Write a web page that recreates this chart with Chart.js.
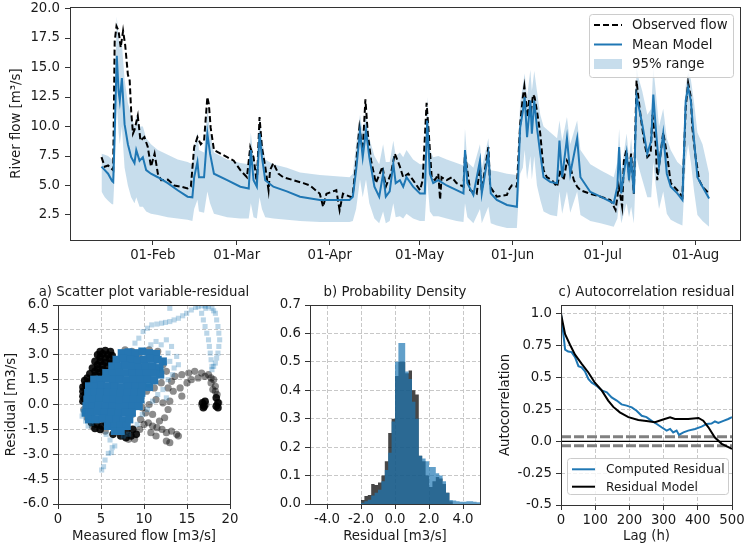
<!DOCTYPE html>
<html>
<head>
<meta charset="utf-8">
<title>River flow model and residual analysis</title>
<script src="https://cdn.jsdelivr.net/npm/chart.js@4.4.1/dist/chart.umd.min.js"></script>
<style>
  body { margin: 0; background: #fff; }
  #page { position: relative; width: 745px; height: 551px; overflow: hidden; }
  #page canvas { position: absolute; }
</style>
</head>
<body>
<div id="page">
  <canvas id="flowChart" width="745" height="262" style="left:0px;top:0px"></canvas>
  <canvas id="scatterChart" width="262" height="281" style="left:0px;top:270px"></canvas>
  <canvas id="densityChart" width="248" height="281" style="left:250px;top:270px"></canvas>
  <canvas id="acfChart" width="247" height="281" style="left:498px;top:270px"></canvas>
</div>
<script>
/* ---------- top panel: river flow (x = day of year, 0 = 01-Jan) ---------- */
const monthTickDays = [31, 59, 90, 120, 151, 181, 212];
const monthTickLabels = ['01-Feb', '01-Mar', '01-Apr', '01-May', '01-Jun', '01-Jul', '01-Aug'];
const flowTicks = [2.5, 5, 7.5, 10, 12.5, 15, 17.5, 20];

const obsDay = [13.9, 15.0, 16.1, 17.8, 18.3, 18.9, 19.6, 20.3, 21.1, 21.8,
  22.7, 23.3, 23.8, 24.4, 24.9, 26.0, 26.9, 28.2, 29.3, 30.4,
  31.6, 32.7, 33.8, 36.0, 38.2, 40.4, 42.6, 43.7, 44.8, 45.9,
  47.0, 48.1, 49.2, 49.7, 50.3, 51.4, 53.6, 55.8, 58.0, 60.2,
  62.4, 63.5, 64.6, 65.7, 66.6, 67.4, 68.5, 69.6, 70.1, 71.2,
  72.9, 74.5, 77.9, 81.2, 83.4, 86.7, 87.8, 88.9, 91.1, 92.2,
  93.3, 94.4, 97.2, 97.7, 98.8, 99.9, 101.0, 101.9, 102.7, 103.8,
  105.4, 107.6, 108.7, 110.4, 111.7, 113.4, 114.5, 116.2, 117.8, 120.1,
  121.0, 122.3, 122.9, 124.0, 125.1, 126.2, 126.8, 127.3, 129.0, 130.7,
  132.3, 134.6, 135.1, 136.8, 139.0, 140.1, 140.7, 142.9, 143.5, 145.7,
  149.1, 149.6, 150.7, 152.4, 153.5, 154.4, 154.9, 155.4, 156.0, 156.5,
  157.1, 157.8, 158.3, 159.1, 160.2, 161.3, 162.4, 164.1, 165.8, 166.9,
  168.0, 169.1, 170.2, 171.4, 172.5, 173.6, 176.9, 180.3, 183.6, 185.3,
  186.4, 187.5, 188.1, 188.9, 189.8, 190.5, 191.4, 192.3, 192.9, 193.7,
  194.8, 195.9, 197.0, 197.6, 198.7, 199.2, 201.2, 202.6, 203.7, 205.9,
  207.6, 208.7, 209.5, 210.4, 210.9, 212.0, 213.2, 214.3, 215.4, 216.5];
const obsFlow = [7.4, 6.6, 6.7, 6.3, 17.2, 18.5, 18.1, 16.7, 18.1, 16.9,
  14.4, 13.9, 11.3, 9.4, 9.7, 10.9, 8.8, 9.1, 8.3, 6.6,
  7.7, 6.0, 5.45, 5.5, 5.0, 4.9, 4.75, 4.9, 8.25, 9.1,
  8.5, 8.8, 12.5, 11.9, 9.9, 8.0, 7.7, 7.4, 7.1, 6.3,
  5.7, 8.25, 7.4, 5.2, 10.8, 8.2, 6.6, 4.6, 6.3, 6.9,
  6.0, 5.7, 5.45, 5.2, 5.0, 4.3, 3.2, 4.3, 4.5, 4.6,
  2.9, 4.3, 4.0, 4.3, 6.9, 9.9, 8.0, 12.3, 9.4, 7.1,
  5.2, 6.6, 4.9, 6.0, 7.7, 6.6, 5.7, 6.0, 5.45, 4.6,
  5.45, 12.0, 9.9, 5.7, 5.45, 6.0, 3.8, 5.7, 5.45, 5.7,
  5.2, 4.9, 7.7, 4.6, 4.3, 6.6, 4.6, 8.25, 4.9, 4.05,
  4.2, 4.6, 5.0, 4.9, 10.2, 12.5, 13.4, 12.2, 10.8, 12.3,
  11.3, 12.7, 12.5, 11.3, 9.4, 6.3, 5.7, 5.45, 4.9, 6.3,
  5.45, 7.1, 6.6, 5.45, 4.9, 4.6, 4.3, 4.05, 3.77, 2.93,
  4.9, 3.2, 7.1, 8.0, 6.0, 7.7, 4.3, 13.9, 12.5, 10.8,
  8.8, 7.4, 7.7, 11.0, 8.5, 5.45, 9.5, 7.4, 5.2, 4.6,
  4.05, 11.6, 13.7, 12.5, 9.9, 7.4, 5.45, 4.9, 4.6, 4.3];

const modelDay = [13.9, 15.0, 16.1, 17.4, 17.8, 18.3, 19.0, 19.6, 20.0, 20.7,
  21.6, 22.7, 23.8, 24.9, 25.5, 26.6, 27.7, 28.8, 30.4, 32.7,
  36.0, 39.3, 42.6, 44.2, 44.8, 45.9, 46.4, 48.1, 49.2, 50.1,
  51.4, 55.8, 60.2, 63.0, 63.7, 64.6, 65.7, 66.6, 67.4, 68.5,
  71.2, 75.7, 80.1, 86.7, 91.1, 96.6, 97.7, 98.8, 100.1, 101.0,
  102.1, 103.2, 104.9, 106.5, 107.8, 108.7, 110.0, 111.2, 112.0, 113.4,
  114.5, 115.6, 117.8, 120.1, 121.7, 122.5, 123.4, 124.5, 126.2, 129.0,
  132.3, 134.6, 135.1, 135.9, 137.9, 140.1, 140.7, 142.9, 143.7, 145.7,
  149.1, 152.4, 153.5, 154.4, 155.0, 155.8, 156.9, 157.4, 158.2, 159.1,
  160.2, 161.3, 163.6, 165.8, 166.6, 167.5, 169.1, 170.2, 172.5, 173.6,
  176.9, 180.3, 184.7, 185.9, 186.5, 187.2, 189.0, 189.8, 190.5, 191.4,
  192.3, 193.1, 194.2, 195.9, 197.2, 197.9, 198.7, 199.8, 201.2, 202.4,
  203.7, 205.9, 207.6, 208.7, 209.5, 210.4, 211.5, 212.6, 214.3, 216.5];
const modelMean = [6.6, 6.3, 6.0, 5.4, 5.3, 9.4, 16.0, 13.0, 12.2, 14.1,
  10.2, 8.5, 7.4, 6.9, 8.0, 7.1, 7.4, 6.3, 6.0, 5.7,
  5.2, 4.6, 4.05, 4.0, 5.7, 7.0, 5.7, 5.7, 9.4, 7.7,
  6.0, 5.45, 4.9, 4.75, 8.0, 5.45, 4.9, 9.4, 7.4, 5.45,
  4.9, 4.5, 4.05, 3.77, 3.77, 3.77, 4.05, 6.3, 9.6, 7.4,
  9.65, 7.4, 4.9, 4.05, 6.0, 4.05, 4.5, 6.85, 5.2, 5.45,
  4.9, 5.7, 4.9, 4.33, 4.33, 10.5, 6.0, 5.2, 5.45, 5.0,
  4.6, 4.33, 8.0, 5.2, 4.2, 7.1, 4.33, 7.7, 4.33, 3.77,
  3.35, 3.2, 9.9, 11.3, 12.5, 9.1, 12.2, 9.4, 12.2, 9.9,
  7.7, 5.7, 5.3, 5.2, 8.8, 5.7, 9.0, 6.0, 9.0, 5.7,
  4.45, 4.05, 3.5, 4.9, 8.25, 4.33, 7.7, 5.45, 7.4, 4.33,
  12.6, 11.6, 10.2, 7.7, 8.8, 12.7, 9.9, 6.6, 9.4, 6.0,
  4.9, 4.33, 3.77, 12.2, 13.3, 12.2, 8.8, 5.7, 4.9, 3.9];
const modelLow = [4.5, 4.0, 3.7, 3.4, 3.4, 6.0, 12.0, 9.5, 8.5, 10.0,
  6.5, 5.0, 4.0, 3.5, 4.0, 3.2, 3.2, 2.8, 2.6, 2.5,
  2.3, 2.2, 2.1, 2.0, 3.0, 3.8, 2.8, 2.7, 4.5, 3.5,
  2.6, 2.3, 2.2, 2.2, 3.5, 2.3, 2.2, 4.0, 3.0, 2.3,
  2.2, 2.1, 2.0, 1.9, 1.9, 1.9, 2.0, 3.0, 5.5, 4.0,
  5.5, 3.5, 2.2, 1.8, 2.8, 1.8, 2.0, 3.5, 2.3, 2.4,
  2.2, 2.6, 2.2, 2.0, 2.0, 5.5, 2.8, 2.4, 2.4, 2.2,
  2.0, 1.9, 3.5, 2.3, 1.8, 3.0, 1.8, 3.2, 1.8, 1.6,
  1.4, 1.4, 6.0, 6.5, 8.0, 5.5, 7.5, 5.5, 7.5, 5.0,
  3.8, 2.8, 2.5, 2.4, 4.5, 2.6, 4.5, 2.7, 4.5, 2.5,
  2.0, 1.8, 1.5, 2.2, 3.5, 1.8, 3.5, 2.3, 3.2, 1.8,
  7.4, 6.5, 5.5, 4.0, 4.0, 7.0, 5.0, 3.0, 4.5, 2.6,
  2.1, 1.8, 1.6, 7.0, 8.5, 7.0, 4.5, 2.5, 2.0, 1.5];
const modelHigh = [7.7, 7.6, 7.5, 7.2, 7.0, 12.0, 19.3, 17.5, 16.5, 17.0,
  14.0, 12.0, 11.0, 10.0, 11.0, 10.0, 10.0, 9.0, 8.5, 8.0,
  7.6, 7.2, 7.0, 6.8, 8.0, 9.5, 8.0, 7.8, 11.5, 9.5,
  7.8, 7.2, 6.9, 6.8, 9.5, 7.2, 6.8, 11.0, 9.0, 7.2,
  6.8, 6.5, 6.1, 5.9, 5.8, 5.7, 6.0, 8.5, 11.0, 9.5,
  11.0, 9.0, 7.5, 6.8, 8.5, 7.0, 7.0, 8.8, 7.5, 7.8,
  7.4, 8.0, 7.2, 6.8, 6.8, 12.5, 8.0, 7.4, 7.5, 7.2,
  6.9, 6.7, 9.8, 7.0, 6.5, 8.5, 6.5, 9.0, 6.3, 6.2,
  6.0, 5.9, 12.0, 13.5, 14.5, 12.5, 14.8, 13.0, 14.7, 13.0,
  11.0, 10.0, 9.5, 9.0, 10.5, 8.8, 10.8, 8.5, 10.5, 8.0,
  6.8, 6.3, 5.7, 7.0, 9.8, 6.2, 9.4, 7.3, 9.0, 6.5,
  15.0, 14.0, 13.0, 11.0, 11.5, 15.0, 13.0, 10.0, 11.5, 9.0,
  8.0, 7.0, 6.6, 13.5, 14.6, 14.0, 12.0, 9.5, 8.5, 6.0];

/* ---------- a) scatter: measured flow vs residual ---------- */
const flowScatterTicks = [0, 5, 10, 15, 20];
const residualTicks = [-6, -4.5, -3, -1.5, 0, 1.5, 3, 4.5, 6];

// dense black patches (residual of observations)
const blackDense = [[4.9, 3.2], [5.5, 3.25], [6.1, 3.2],
  [4.6, 3.0], [5.2, 3.05], [5.8, 3.0], [6.3, 2.95],
  [4.9, 2.85], [5.5, 2.8], [6.0, 2.75],
  [4.3, 2.6], [4.9, 2.6], [5.5, 2.55], [6.1, 2.5],
  [4.6, 2.4], [5.2, 2.4], [5.8, 2.3],
  [4.0, 2.2], [4.6, 2.15], [5.2, 2.1], [5.6, 2.0],
  [4.3, 2.0], [4.9, 1.95], [3.7, 1.85], [4.3, 1.75], [4.9, 1.7],
  [3.4, 1.6], [4.0, 1.55], [3.1, 1.45], [3.6, 1.35], [3.2, 1.2],
  [2.9, 1.05], [3.3, 0.95], [2.9, 0.8], [3.2, 0.65], [2.9, 0.5], [3.1, 0.35], [2.9, 0.2],
  [3.9, -1.1], [4.5, -1.2], [5.1, -1.3], [5.6, -1.1], [4.3, -1.45], [4.9, -1.5],
  [7.3, -1.9], [7.9, -2.0], [8.5, -1.9], [8.0, -1.6], [8.7, -1.5], [9.1, -1.8], [6.4, -1.8],
  [16.8, 0.1], [17.0, -0.1], [16.9, -0.2], [17.1, 0.2],
  [18.4, 0.4], [18.6, 0.1], [18.6, -0.2], [18.4, -0.1]];
const blackSparse = [[9.5, -1.5], [10.0, -1.2], [10.5, -1.1], [11.0, -1.3], [11.5, -1.4],
  [12.1, -1.5], [12.6, -1.7], [13.2, -1.6], [13.8, -1.8], [14.0, -1.9], [12.6, -2.2], [13.0, -2.3],
  [11.8, -1.0], [12.4, -0.8], [11.0, -0.6], [10.2, -0.5], [12.8, -0.3], [13.0, 0.2], [12.2, 0.1],
  [11.4, 0.3], [10.6, 0.0], [9.8, -0.2], [9.5, 0.5], [10.3, 0.8], [11.2, 1.0], [12.0, 1.3],
  [12.8, 1.0], [13.4, 0.8], [13.2, 1.4], [13.6, 1.7], [14.4, 1.8], [14.2, 1.0], [14.4, 0.5],
  [15.0, 1.3], [15.2, 1.9], [15.5, 1.5], [15.9, 2.0], [16.3, 1.6], [16.7, 1.9], [17.1, 1.7],
  [17.5, 1.8], [17.8, 1.6], [18.1, 1.5], [18.3, 1.1], [18.0, 0.9], [17.8, 1.3],
  [16.7, 0.0], [17.2, 0.0], [18.7, 0.1], [18.5, 0.6], [18.3, 0.8],
  [9.0, 2.2], [10.0, 2.6], [11.0, 2.9], [11.6, 3.2], [10.6, 3.3], [9.4, 3.0], [12.2, 2.4],
  [12.6, 2.0], [8.6, 3.2], [7.8, 3.3], [9.2, 1.2], [8.6, -0.6], [9.6, -0.9], [10.8, -1.7],
  [11.4, -1.9], [8.9, -2.1], [8.2, -2.1], [5.5, -1.6], [4.0, -1.3], [3.4, -0.8], [3.0, -0.3]];
// dense blue core (residual model)
const blueDense = [[7.4, 3.1], [8.2, 3.15], [9.0, 3.1], [9.8, 3.2], [10.6, 3.1], [11.4, 3.05],
  [6.8, 2.7], [7.6, 2.75], [8.4, 2.7], [9.2, 2.65], [10.0, 2.7], [10.8, 2.75], [11.6, 2.7], [12.2, 2.6],
  [6.3, 2.3], [7.0, 2.3], [7.8, 2.35], [8.6, 2.3], [9.4, 2.25], [10.2, 2.3], [11.0, 2.3], [11.8, 2.2],
  [5.6, 1.9], [6.3, 1.9], [7.1, 1.95], [7.9, 1.9], [8.7, 1.9], [9.5, 1.85], [10.3, 1.9], [11.1, 1.9], [11.9, 1.8],
  [4.2, 1.5], [4.9, 1.5], [5.6, 1.55], [6.4, 1.5], [7.2, 1.5], [8.0, 1.45], [8.8, 1.5], [9.6, 1.5], [10.4, 1.5], [11.2, 1.45],
  [3.6, 1.1], [4.3, 1.1], [5.0, 1.15], [5.8, 1.1], [6.6, 1.1], [7.4, 1.05], [8.2, 1.1], [9.0, 1.1], [9.8, 1.1], [10.6, 1.05],
  [3.5, 0.7], [4.2, 0.7], [4.9, 0.75], [5.7, 0.7], [6.5, 0.7], [7.3, 0.65], [8.1, 0.7], [8.9, 0.7], [9.7, 0.7],
  [3.4, 0.3], [4.1, 0.3], [4.8, 0.35], [5.6, 0.3], [6.4, 0.3], [7.2, 0.25], [8.0, 0.3], [8.8, 0.3], [9.6, 0.3],
  [3.3, -0.1], [4.0, -0.1], [4.7, -0.05], [5.5, -0.1], [6.3, -0.1], [7.1, -0.15], [7.9, -0.1], [8.7, -0.1], [9.4, -0.1],
  [3.2, -0.5], [3.9, -0.5], [4.6, -0.45], [5.4, -0.5], [6.2, -0.5], [7.0, -0.55], [7.8, -0.5], [8.6, -0.5],
  [3.6, -0.9], [4.4, -0.9], [5.2, -0.85], [6.0, -0.9], [6.8, -0.9], [7.6, -0.95], [8.3, -0.9],
  [5.8, -1.3], [6.6, -1.3], [7.3, -1.25], [8.0, -1.3],
  [6.6, -1.6], [7.3, -1.6]];
const blueSparse = [[8.95, 3.7], [9.4, 4.0], [9.9, 4.4], [10.4, 4.6], [10.9, 4.8], [11.5, 4.85],
  [12.05, 4.9], [12.5, 4.95], [13.0, 5.0], [13.5, 5.1], [14.0, 5.2], [14.5, 5.35], [14.96, 5.5],
  [15.5, 5.7], [16.0, 5.85], [16.3, 5.9], [16.7, 5.95], [17.1, 5.94], [17.5, 5.9], [17.9, 5.8],
  [18.1, 5.65], [18.3, 5.5], [18.45, 5.1], [18.6, 4.7], [18.7, 4.3], [18.8, 3.9], [18.7, 3.5],
  [18.6, 3.1], [18.45, 2.8], [18.3, 2.5], [18.1, 2.3], [17.9, 2.1],
  [16.7, 5.5], [16.9, 5.1], [17.1, 4.7], [17.3, 4.3], [17.5, 3.9], [17.6, 3.5], [17.7, 3.1],
  [17.8, 2.7], [17.9, 2.3], [17.2, 5.8], [13.0, 5.8],
  [12.8, 3.1], [13.2, 3.5], [12.4, 2.5], [13.0, 2.6], [13.5, 2.2], [12.05, 2.1], [13.3, 1.8],
  [12.8, 1.5], [13.8, 2.9], [14.0, 2.4], [12.6, 3.9], [12.0, 3.6], [11.4, 3.8], [10.8, 3.6],
  [2.8, -0.7], [2.9, -0.4], [3.2, -1.0], [3.5, -1.3], [3.9, -1.14],
  [5.6, -1.8], [6.05, -2.14], [6.6, -2.5], [6.3, -2.6], [5.85, -2.95], [6.2, -2.9],
  [5.47, -3.35], [5.3, -3.75], [5.08, -3.95],
  [7.6, -1.9], [8.2, -1.8], [9.2, -1.2], [9.8, -0.6], [10.4, -0.3], [11.0, 0.2], [11.6, 0.6],
  [12.2, 0.9], [10.6, 1.2], [12.6, 0.4]];

/* ---------- b) probability density of residuals ---------- */
const residualBinTicks = [-4, -2, 0, 2, 4];
const densityTicks = [0, 0.1, 0.2, 0.3, 0.4, 0.5, 0.6, 0.7];
const binEdges = [-2.0, -1.8, -1.6, -1.4, -1.2, -1.0, -0.8, -0.6, -0.4, -0.2,
  0.0, 0.2, 0.4, 0.6, 0.8, 1.0, 1.2, 1.4, 1.6, 1.8,
  2.0, 2.2, 2.4, 2.6, 2.8, 3.0, 3.2, 3.4, 3.6, 3.8,
  4.0, 4.2, 4.4, 4.6, 4.8, 5.0];
const densityComputed = [0.014, 0.028, 0.032, 0.07, 0.067, 0.076, 0.10, 0.15, 0.25, 0.30,
  0.45, 0.50, 0.50, 0.46, 0.47, 0.40, 0.385, 0.17, 0.15, 0.10,
  0.06, 0.08, 0.095, 0.09, 0.07, 0.04, 0.01, 0, 0, 0,
  0, 0, 0, 0, 0];
const densityModel = [0.004, 0.01, 0.015, 0.03, 0.04, 0.05, 0.08, 0.12, 0.18, 0.29,
  0.50, 0.566, 0.566, 0.466, 0.44, 0.36, 0.30, 0.17, 0.16, 0.15,
  0.13, 0.13, 0.108, 0.10, 0.08, 0.04, 0.014, 0.012, 0.01, 0.008,
  0.008, 0.01, 0.01, 0.008, 0.006];

/* ---------- c) autocorrelation of residuals ---------- */
const lagTicks = [0, 100, 200, 300, 400, 500];
const acfTicks = [-0.5, -0.25, 0, 0.25, 0.5, 0.75, 1.0];
const lagRange = [0, 500];
const confBound = 0.035;
const lagComputed = [0, 7, 12, 21, 31, 41, 51, 60, 70, 80, 90, 104, 119, 134, 148, 163, 177, 192,
  207, 221, 236, 250, 265, 280, 294, 309, 319, 328, 338, 345, 358, 372, 392, 411, 426, 440,
  450, 460, 475, 489, 500];
const acfComputed = [1.0, 0.84, 0.72, 0.705, 0.70, 0.66, 0.59, 0.58, 0.55, 0.49, 0.46, 0.436,
  0.40, 0.384, 0.345, 0.32, 0.29, 0.28, 0.266, 0.24, 0.20, 0.19, 0.16, 0.136, 0.11, 0.084,
  0.097, 0.07, 0.084, 0.05, 0.07, 0.084, 0.097, 0.115, 0.136, 0.14, 0.157, 0.144, 0.16, 0.175, 0.19];
const lagModel = [0, 12, 26, 41, 60, 80, 99, 119, 138, 153, 172, 197, 226, 255, 275, 294, 319,
  333, 353, 372, 402, 416, 431, 450, 470, 500];
const acfModel = [1.0, 0.84, 0.76, 0.68, 0.61, 0.54, 0.46, 0.40, 0.32, 0.27, 0.227, 0.19, 0.167,
  0.157, 0.15, 0.167, 0.188, 0.175, 0.175, 0.175, 0.183, 0.162, 0.11, 0.03, -0.02, -0.06];

/* ---------- shared look ---------- */
const fontFamily = "'DejaVu Sans', sans-serif";
Chart.defaults.font.family = fontFamily;
Chart.defaults.font.size = 13.3;
Chart.defaults.color = '#1a1a1a';
Chart.defaults.animation = false;
Chart.defaults.responsive = false;
Chart.defaults.events = [];
Chart.defaults.plugins.legend.display = false;
Chart.defaults.plugins.tooltip.enabled = false;
Chart.defaults.elements.point.radius = 0;
Chart.defaults.elements.line.tension = 0;

const blue = '#1f77b4';
const spine = '#333333';

const pairs = (xs, ys) => xs.map((x, i) => ({ x: x, y: ys[i] }));
const points = list => list.map(p => ({ x: p[0], y: p[1] }));
const stepData = dens => binEdges.map((e, i) => ({ x: e, y: i < dens.length ? dens[i] : 0 }));

const fixTicks = values => s => { s.ticks = values.map(v => ({ value: v })); };
const fixWidth = w => s => { s.width = w; s.paddingTop = 0; s.paddingBottom = 0; };
const fixHeight = h => s => { s.height = h; s.paddingLeft = 0; s.paddingRight = 0; };

const dashedGrid = { color: '#c8c8c8', lineWidth: 1, tickLength: 5, tickColor: spine, tickBorderDash: [] };
const gridDash = { display: false, dash: [4, 2] };
const oneDecimal = v => v.toFixed(1);

const frame = {
  id: 'frame',
  afterDatasetsDraw(chart) {
    const a = chart.chartArea, ctx = chart.ctx;
    ctx.save();
    ctx.strokeStyle = spine;
    ctx.lineWidth = 1;
    ctx.strokeRect(Math.round(a.left) + 0.5, Math.round(a.top) + 0.5,
      Math.round(a.right) - Math.round(a.left), Math.round(a.bottom) - Math.round(a.top));
    ctx.restore();
  }
};

// panel title centred over the plot area (may run wider than it, like matplotlib)
const panelTitle = text => ({
  id: 'panelTitle',
  afterDraw(chart) {
    const a = chart.chartArea, ctx = chart.ctx;
    ctx.save();
    ctx.font = '13.3px ' + fontFamily;
    ctx.fillStyle = '#1a1a1a';
    ctx.textAlign = 'center';
    ctx.textBaseline = 'middle';
    ctx.fillText(text, (a.left + a.right) / 2, a.top - 12);
    ctx.restore();
  }
});

function drawLegend(ctx, x, y, w, h, rows, opt) {
  ctx.save();
  ctx.beginPath();
  ctx.roundRect(x + 0.5, y + 0.5, w, h, 3);
  ctx.fillStyle = 'rgba(255,255,255,0.8)';
  ctx.fill();
  ctx.strokeStyle = '#cccccc';
  ctx.lineWidth = 1;
  ctx.stroke();
  ctx.font = opt.font + 'px ' + fontFamily;
  ctx.textBaseline = 'middle';
  rows.forEach((r, i) => {
    const cy = y + opt.first + i * opt.gap;
    if (r.patch) {
      ctx.fillStyle = r.color;
      ctx.fillRect(x + 5, cy - 5, opt.sample, 10);
    } else {
      ctx.beginPath();
      ctx.setLineDash(r.dash || []);
      ctx.strokeStyle = r.color;
      ctx.lineWidth = 2;
      ctx.moveTo(x + 5, cy);
      ctx.lineTo(x + 5 + opt.sample, cy);
      ctx.stroke();
      ctx.setLineDash([]);
    }
    ctx.fillStyle = '#1a1a1a';
    ctx.fillText(r.text, x + opt.textX, cy + 1);
  });
  ctx.restore();
}

/* ---------- top: river flow ---------- */
new Chart(document.getElementById('flowChart'), {
  type: 'line',
  data: {
    datasets: [
      { data: pairs(modelDay, modelLow), borderWidth: 0, borderColor: 'transparent', order: 3 },
      { data: pairs(modelDay, modelHigh), borderWidth: 0, borderColor: 'transparent', fill: '-1',
        backgroundColor: 'rgba(31,119,180,0.25)', order: 2 },
      { data: pairs(obsDay, obsFlow), borderColor: '#000', borderWidth: 2, borderDash: [6, 3], order: 1 },
      { data: pairs(modelDay, modelMean), borderColor: blue, borderWidth: 2, order: 0 }
    ]
  },
  options: {
    devicePixelRatio: 1,
    layout: { padding: { left: 0, top: 7, right: 5, bottom: 0 } },
    scales: {
      x: {
        type: 'linear', min: 3.4, max: 226.8,
        afterBuildTicks: fixTicks(monthTickDays),
        afterFit: fixHeight(22),
        grid: { drawOnChartArea: false, tickLength: 5, tickColor: spine },
        border: { display: false },
        ticks: { padding: 3, maxRotation: 0, autoSkip: false, callback: (v, i) => monthTickLabels[i] }
      },
      y: {
        min: 0.38, max: 20.13,
        afterBuildTicks: fixTicks(flowTicks),
        afterFit: fixWidth(70),
        grid: { drawOnChartArea: false, tickLength: 5, tickColor: spine },
        border: { display: false },
        ticks: { padding: 5, autoSkip: false, callback: oneDecimal },
        title: { display: true, text: 'River flow [m³/s]', padding: { top: 9, bottom: 0 } }
      }
    }
  },
  plugins: [frame, {
    id: 'flowLegend',
    afterDraw(chart) {
      const a = chart.chartArea;
      drawLegend(chart.ctx, a.right - 151, a.top + 7, 144, 63, [
        { color: '#000', dash: [6, 3], text: 'Observed flow' },
        { color: blue, text: 'Mean Model' },
        { patch: true, color: 'rgba(31,119,180,0.25)', text: '95% range' }
      ], { font: 13.3, first: 11, gap: 19.5, sample: 28, textX: 43 });
    }
  }]
});

/* ---------- a) scatter ---------- */
new Chart(document.getElementById('scatterChart'), {
  type: 'scatter',
  data: {
    datasets: [
      { data: points(blueSparse), pointStyle: 'rect', pointRadius: 3.6, borderWidth: 0,
        backgroundColor: 'rgba(31,119,180,0.3)', order: 0 },
      { data: points(blueDense), pointStyle: 'rect', pointRadius: 5.6, borderWidth: 0,
        backgroundColor: '#2676b2', order: 1 },
      { data: points(blackSparse), pointStyle: 'circle', pointRadius: 3.6, borderWidth: 0,
        backgroundColor: 'rgba(0,0,0,0.45)', order: 2 },
      { data: points(blackDense), pointStyle: 'circle', pointRadius: 3.8, borderWidth: 0,
        backgroundColor: 'rgba(0,0,0,0.9)', order: 3 }
    ]
  },
  options: {
    devicePixelRatio: 1,
    layout: { padding: { left: 0, top: 35, right: 32, bottom: 0 } },
    scales: {
      x: {
        type: 'linear', min: 0, max: 20,
        afterBuildTicks: fixTicks(flowScatterTicks),
        afterFit: fixHeight(47),
        grid: dashedGrid, border: gridDash,
        ticks: { padding: 3, maxRotation: 0, autoSkip: false },
        title: { display: true, text: 'Measured flow [m3/s]', padding: { top: 0, bottom: 6 } }
      },
      y: {
        min: -6, max: 6,
        afterBuildTicks: fixTicks(residualTicks),
        afterFit: fixWidth(58),
        grid: dashedGrid, border: gridDash,
        ticks: { padding: 4, autoSkip: false, callback: oneDecimal },
        title: { display: true, text: 'Residual [m3/s]', padding: { top: 4, bottom: 0 } }
      }
    }
  },
  plugins: [frame, panelTitle('a) Scatter plot variable-residual')]
});

/* ---------- b) probability density ---------- */
new Chart(document.getElementById('densityChart'), {
  type: 'line',
  data: {
    datasets: [
      { data: stepData(densityModel), stepped: true, fill: 'origin', borderWidth: 0,
        borderColor: 'transparent', backgroundColor: 'rgba(31,119,180,0.7)', order: 0 },
      { data: stepData(densityComputed), stepped: true, fill: 'origin', borderWidth: 0,
        borderColor: 'transparent', backgroundColor: 'rgba(0,0,0,0.72)', order: 1 }
    ]
  },
  options: {
    devicePixelRatio: 1,
    layout: { padding: { left: 0, top: 35, right: 18, bottom: 0 } },
    scales: {
      x: {
        type: 'linear', min: -5, max: 5,
        afterBuildTicks: fixTicks(residualBinTicks),
        afterFit: fixHeight(47),
        grid: dashedGrid, border: gridDash,
        ticks: { padding: 3, maxRotation: 0, autoSkip: false, callback: oneDecimal },
        title: { display: true, text: 'Residual [m3/s]', padding: { top: 0, bottom: 6 } }
      },
      y: {
        min: 0, max: 0.7,
        afterBuildTicks: fixTicks(densityTicks),
        afterFit: fixWidth(60),
        grid: dashedGrid, border: gridDash,
        ticks: { padding: 4, autoSkip: false, callback: oneDecimal }
      }
    }
  },
  plugins: [frame, panelTitle('b) Probability Density')]
});

/* ---------- c) autocorrelation ---------- */
new Chart(document.getElementById('acfChart'), {
  type: 'line',
  data: {
    datasets: [
      { data: pairs(lagModel, acfModel), borderColor: '#000', borderWidth: 2, order: 0 },
      { data: pairs(lagComputed, acfComputed), borderColor: blue, borderWidth: 2, order: 1 },
      { data: lagRange.map(l => ({ x: l, y: 0 })), borderColor: '#000', borderWidth: 1.2, order: 2 },
      { data: lagRange.map(l => ({ x: l, y: confBound })), borderColor: '#808080', borderWidth: 3,
        borderDash: [10, 3], order: 3 },
      { data: lagRange.map(l => ({ x: l, y: -confBound })), borderColor: '#808080', borderWidth: 3,
        borderDash: [10, 3], order: 3 }
    ]
  },
  options: {
    devicePixelRatio: 1,
    layout: { padding: { left: 0, top: 35, right: 13, bottom: 0 } },
    scales: {
      x: {
        type: 'linear', min: 0, max: 500,
        afterBuildTicks: fixTicks(lagTicks),
        afterFit: fixHeight(46),
        grid: dashedGrid, border: gridDash,
        ticks: { padding: 3, maxRotation: 0, autoSkip: false },
        title: { display: true, text: 'Lag (h)', padding: { top: 0, bottom: 6 } }
      },
      y: {
        min: -0.5, max: 1.07,
        afterBuildTicks: fixTicks(acfTicks),
        afterFit: fixWidth(63),
        grid: dashedGrid, border: gridDash,
        ticks: {
          padding: 4, autoSkip: false,
          callback: v => (Math.abs(v * 2 - Math.round(v * 2)) < 1e-9 ? v.toFixed(1) : v.toFixed(2))
        },
        title: { display: true, text: 'Autocorrelation', padding: { top: 0, bottom: 0 } }
      }
    }
  },
  plugins: [frame, panelTitle('c) Autocorrelation residual'), {
    id: 'acfLegend',
    afterDraw(chart) {
      const a = chart.chartArea;
      drawLegend(chart.ctx, a.left + 6, a.bottom - 47, a.right - a.left - 10, 36, [
        { color: blue, text: 'Computed Residual' },
        { color: '#000', text: 'Residual Model' }
      ], { font: 12.2, first: 11.3, gap: 17.4, sample: 23, textX: 39 });
    }
  }]
});
</script>
</body>
</html>
